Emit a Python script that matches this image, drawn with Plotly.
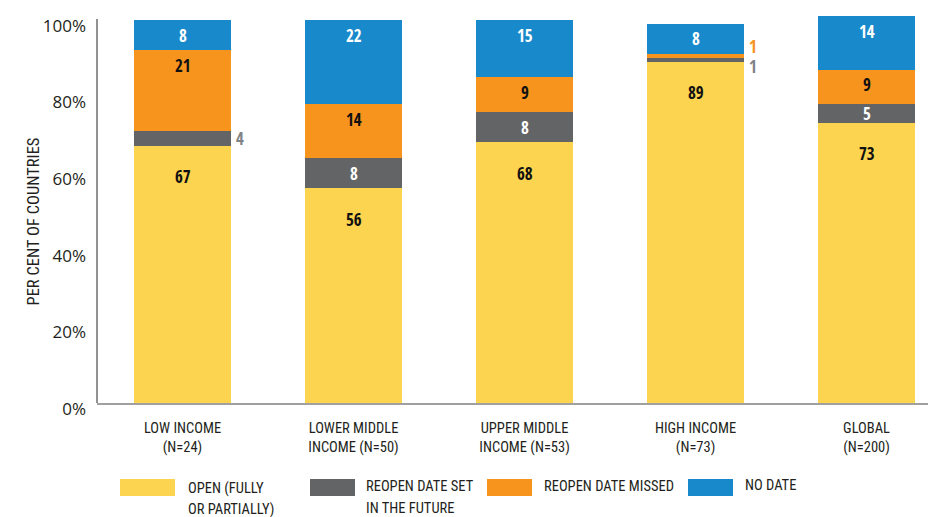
"""
Estado de reabertura das escolas por grupo de renda - barras empilhadas
"""

import plotly.graph_objects as go

# Dados
categories = [
    "LOW INCOME<br>(N=24)",
    "LOWER MIDDLE<br>INCOME (N=50)",
    "UPPER MIDDLE<br>INCOME (N=53)",
    "HIGH INCOME<br>(N=73)",
    "GLOBAL<br>(N=200)",
]
series_names = ["OPEN (FULLY<br>OR PARTIALLY)", "REOPEN DATE SET<br>IN THE FUTURE",
                "REOPEN DATE MISSED", "NO DATE"]
open_vals = [67, 56, 68, 89, 73]
future_vals = [4, 8, 8, 1, 5]
missed_vals = [21, 14, 9, 1, 9]
nodate_vals = [8, 22, 15, 8, 14]
y_ticks = [0, 20, 40, 60, 80, 100]
y_ticktext = [f"{v}%" for v in y_ticks]

# Estilo
COLORS = ["#FDD44F", "#636466", "#F7941D", "#1889CA"]
LABEL_COLORS = ["#111111", "#FFFFFF", "#111111", "#FFFFFF"]
OUTSIDE_COLORS = ["#808285", "#808285", "#F7941D", "#808285"]
LABEL_CAP = [8, 4, 4, 4]  # distância máxima (em %) do topo do segmento até o rótulo
NARROW = "Roboto Condensed, Liberation Sans, sans-serif"
NARROW_BOLD = "Open Sans Condensed, Roboto Condensed, sans-serif"

all_vals = [open_vals, future_vals, missed_vals, nodate_vals]

fig = go.Figure()
for name, vals, color in zip(series_names, all_vals, COLORS):
    fig.add_trace(go.Bar(
        x=categories,
        y=vals,
        name=name.replace("<br>", " "),
        marker=dict(color=color, line=dict(width=0)),
        hovertemplate='<b>%{x}</b><br>%{y}%<extra></extra>',
    ))

# Rótulos das barras
annotations = []
for ci, cat in enumerate(categories):
    base = 0
    small = [s for s in range(4) if all_vals[s][ci] <= 4]
    for s in range(4):
        v = all_vals[s][ci]
        top = base + v
        if v <= 4:
            shift = 0
            if len(small) > 1:
                shift = 10 if s == 2 else -7
            annotations.append(dict(
                x=cat, y=base + v / 2, xref='x', yref='y', text=f"<b>{v}</b>",
                showarrow=False, xshift=57, yshift=shift,
                font=dict(family=NARROW_BOLD, size=17, color=OUTSIDE_COLORS[s]),
            ))
        else:
            annotations.append(dict(
                x=cat, y=top - min(v / 2, LABEL_CAP[s]), xref='x', yref='y',
                text=f"<b>{v}</b>", showarrow=False,
                font=dict(family=NARROW_BOLD, size=17, color=LABEL_COLORS[s]),
            ))
        base = top

# Legenda manual (retângulos largos como no original); coordenadas em px da imagem
L, W, B, H = 97, 839, 403, 391
def px_x(p):
    return (p - L) / W
def px_y(p):
    return (B - p) / H

swatch_x = [120, 310, 487, 688]
swatch_w = [55, 45, 45, 45]
text_x = [186, 364, 542, 743]
text_mid = [488, 487, 487, 485]
shapes = []
for i, name in enumerate(series_names):
    shapes.append(dict(
        type='rect', xref='paper', yref='paper',
        x0=px_x(swatch_x[i]), x1=px_x(swatch_x[i] + swatch_w[i]),
        y0=px_y(496), y1=px_y(479),
        fillcolor=COLORS[i], line=dict(width=0),
    ))
    # cada linha separada para ter o entrelinhas do original
    for k, line in enumerate(name.split("<br>")):
        annotations.append(dict(
            x=px_x(text_x[i]), y=px_y(text_mid[i] + 21 * k), xref='paper', yref='paper',
            xanchor='left', yanchor='middle', text=line, showarrow=False,
            font=dict(family=NARROW, size=14.5, color='#231F20'),
        ))

# Linha do eixo Y só até pouco acima de 100%
shapes.append(dict(
    type='line', xref='paper', yref='paper', x0=0, x1=0, y0=0, y1=px_y(19),
    line=dict(color='#6D6E71', width=1.5),
))

# Título do eixo Y
annotations.append(dict(
    x=px_x(21), y=px_y(222), xref='paper', yref='paper', text="PER CENT OF COUNTRIES",
    textangle=-90, showarrow=False, font=dict(family=NARROW, size=16.5, color='#231F20'),
))

# A página tem margem de 8 px no body: figura 8 px menor e deslocada
fig.update_layout(
    barmode='stack',
    width=928,
    height=509,
    margin=dict(l=89, r=0, t=4, b=114),
    plot_bgcolor='white',
    paper_bgcolor='white',
    showlegend=False,
    bargap=0.433,
    annotations=annotations,
    shapes=shapes,
    xaxis=dict(
        range=[-0.5, 4.406],
        showgrid=False,
        zeroline=False,
        showline=True,
        linecolor='#A0A0A0',
        linewidth=1.5,
        ticks='',
        ticklabelstandoff=11,
        tickfont=dict(family=NARROW, size=14.5, color='#231F20'),
    ),
    yaxis=dict(
        range=[0, 102],
        tickmode='array',
        tickvals=y_ticks,
        ticktext=y_ticktext,
        showgrid=False,
        zeroline=False,
        showline=False,
        ticks='',
        ticklabelstandoff=10,
        ticklabelshift=6,
        tickfont=dict(family='Open Sans, sans-serif', size=17, color='#231F20'),
    ),
)

fig.write_html("out.html")
